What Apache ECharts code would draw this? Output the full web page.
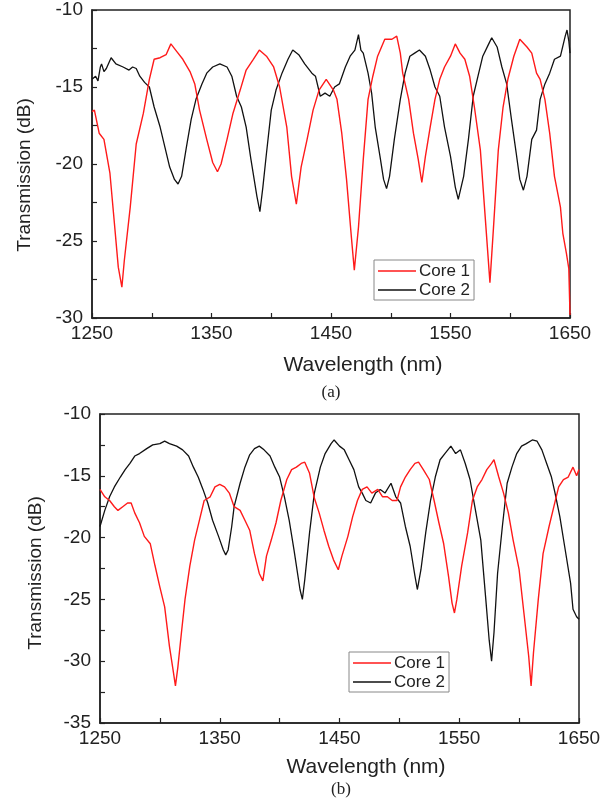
<!DOCTYPE html>
<html>
<head>
<meta charset="utf-8">
<script src="https://cdn.jsdelivr.net/npm/echarts@6.0.0/dist/echarts.min.js"></script>
<style>
html,body{margin:0;padding:0;background:#fff;}
#chart{width:616px;height:805px;}
</style>
</head>
<body>
<div id="chart"></div>
<script>
// ---------- Panel (a) ----------
var aCore1Wl = [1250,1252,1256,1260,1265,1268,1272,1275,1277,1282,1287,1293,1298,1302,1307,1312,1316,1321,1326,1332,1336,1340,1346,1351,1355,1358,1363,1368,1374,1379,1385,1390,1396,1402,1407,1413,1417,1421,1425,1430,1435,1440,1446,1452,1455,1459,1463,1467,1469.5,1473,1477,1481,1485,1489,1495,1501,1505,1508,1510,1515,1519,1523,1526,1529,1533,1537,1541,1545,1550,1554,1558,1562,1566,1570,1575,1579,1583,1586,1590,1594,1598,1603,1608,1614,1618,1622,1625,1629,1633,1637,1642,1644,1647,1649,1650];
var aCore1dB = [-16.6,-16.5,-18.0,-18.4,-20.6,-23.2,-26.7,-28.0,-26.3,-22.8,-18.7,-16.7,-14.5,-13.2,-13.1,-12.9,-12.2,-12.7,-13.2,-14.0,-14.8,-16.5,-18.4,-19.9,-20.5,-20.0,-18.4,-16.7,-15.2,-13.9,-13.2,-12.6,-13.0,-13.7,-15.0,-17.6,-20.8,-22.6,-20.2,-18.4,-16.5,-15.2,-14.5,-15.2,-15.8,-18.0,-21.0,-24.7,-26.9,-24.1,-19.7,-15.8,-14.3,-13.0,-11.9,-11.9,-11.7,-12.8,-14.1,-15.8,-18.0,-19.7,-21.2,-19.5,-17.6,-15.8,-14.5,-13.7,-13.0,-12.2,-12.8,-13.2,-14.3,-16.3,-19.1,-23.4,-27.7,-24.1,-19.1,-16.3,-14.5,-13.0,-11.9,-12.4,-12.8,-14.1,-14.5,-15.8,-18.0,-20.8,-22.8,-24.5,-25.8,-26.8,-29.8];

var aCore2Wl = [1250,1253,1255,1257,1258,1260,1262,1266,1270,1276,1281,1284,1287,1290,1294,1298,1302,1307,1311,1315,1319,1322,1325,1329,1333,1337,1342,1346,1351,1357,1363,1367,1371,1375,1379,1383,1388,1390.5,1393,1396,1400,1404,1409,1414,1418,1423,1428,1434,1437,1441,1445,1449,1453,1457,1462,1466,1470,1473,1475,1477,1481,1484,1487,1491,1494,1496.5,1499,1503,1508,1512,1516,1520,1524,1529,1533,1537,1541,1545,1550,1554,1556.5,1561,1565,1569,1573,1577,1582,1584.5,1589,1593,1597,1601,1605,1608,1611,1614,1618,1622,1625,1629,1633,1637,1642,1646,1647.5,1649,1650];
var aCore2dB = [-14.5,-14.3,-14.6,-13.7,-13.5,-14.0,-13.8,-13.1,-13.5,-13.7,-13.9,-13.7,-13.8,-14.3,-14.7,-15.0,-16.3,-17.6,-18.9,-20.2,-21.0,-21.3,-20.8,-18.9,-17.1,-15.8,-14.8,-14.1,-13.7,-13.5,-13.7,-14.3,-15.6,-16.3,-17.6,-19.7,-22.1,-23.1,-21.5,-19.3,-16.5,-15.2,-14.1,-13.2,-12.6,-12.9,-13.5,-14.1,-14.3,-15.6,-15.4,-15.6,-15.0,-14.8,-13.7,-13.0,-12.6,-11.6,-12.6,-12.8,-14.1,-15.4,-17.6,-19.5,-21.0,-21.6,-20.8,-18.4,-15.8,-14.1,-13.0,-12.8,-12.6,-13.0,-13.9,-15.0,-15.6,-17.6,-19.5,-21.5,-22.3,-20.8,-18.4,-15.6,-14.3,-13.0,-12.2,-11.8,-12.4,-13.7,-14.8,-17.1,-19.3,-21.0,-21.7,-20.8,-18.4,-17.8,-15.8,-14.8,-14.1,-13.2,-13.0,-11.7,-11.3,-12.0,-12.8];

// ---------- Panel (b) ----------
var bCore1Wl = [1250,1254,1258,1262,1265,1269,1273,1276,1279,1283,1287,1292,1296,1300,1304,1308,1311,1313,1315,1318,1321,1325,1329,1333,1337,1342,1346,1350,1354,1358,1362,1367,1371,1375,1379,1383,1386,1389,1393,1397,1401,1406,1410,1414,1418,1421,1425,1429,1433,1437,1441,1445,1449,1452,1457,1461,1465,1469,1473,1477,1482,1486,1490,1494,1498,1501,1505,1509,1513,1516,1520,1525,1529,1533,1537,1541,1544,1546,1548,1552,1557,1561,1565,1569,1573,1577,1579,1583,1587,1591,1595,1600,1604,1608,1610,1612,1616,1620,1625,1629,1633,1637,1641,1645,1648,1650];
var bCore1dB = [-16.1,-16.7,-17.0,-17.5,-17.8,-17.5,-17.2,-17.2,-18.0,-18.8,-19.9,-20.5,-22.3,-24.0,-25.6,-28.8,-30.7,-32.0,-30.5,-27.7,-25.0,-22.3,-20.2,-18.6,-17.0,-16.7,-15.9,-15.7,-15.9,-16.4,-17.5,-17.8,-18.6,-19.4,-21.3,-22.9,-23.5,-21.5,-20.2,-18.8,-17.0,-15.3,-14.5,-14.3,-14.0,-13.9,-14.8,-16.8,-18.0,-19.4,-20.7,-21.8,-22.6,-21.5,-19.9,-18.3,-17.0,-16.1,-15.9,-16.4,-16.1,-16.7,-16.7,-17.0,-17.0,-15.9,-15.1,-14.5,-14.0,-13.9,-14.5,-15.3,-17.0,-18.8,-20.5,-23.1,-25.3,-26.1,-25.0,-22.3,-19.6,-17.0,-15.9,-15.3,-14.5,-14.0,-13.7,-15.1,-16.4,-18.0,-20.2,-22.6,-26.1,-29.6,-32.0,-29.3,-25.0,-21.3,-19.1,-17.5,-15.9,-15.3,-15.1,-14.3,-15.0,-14.5];

var bCore2Wl = [1250,1254,1258,1262,1267,1271,1275,1279,1283,1289,1294,1300,1304,1308,1314,1319,1324,1328,1332,1336,1340,1344,1349,1353,1355,1357,1360,1362,1367,1371,1375,1379,1383,1387,1392,1396,1400,1404,1408,1412,1417,1419,1421,1425,1429,1434,1438,1443,1445.5,1450,1454,1458,1462,1466,1469,1472,1476,1480,1484,1488,1493,1497,1501,1505,1509,1513,1515,1518,1522,1526,1530,1534,1538,1543,1547,1551,1555,1559,1563,1568,1572,1575,1577,1579,1582,1586,1590,1594,1598,1602,1606,1611,1615,1619,1623,1627,1630,1634,1638,1643,1645,1648,1650];
var bCore2dB = [-19.1,-17.8,-16.7,-15.9,-15.1,-14.5,-14.0,-13.4,-13.2,-12.8,-12.5,-12.4,-12.2,-12.4,-12.6,-12.9,-13.4,-14.3,-15.1,-16.1,-17.2,-18.6,-19.9,-21.0,-21.4,-21.0,-19.1,-17.5,-15.6,-14.3,-13.3,-12.8,-12.6,-12.9,-13.4,-14.3,-15.1,-16.7,-18.6,-21.0,-24.2,-25.0,-23.4,-19.6,-16.4,-14.3,-13.2,-12.4,-12.1,-12.6,-12.9,-13.7,-14.5,-15.9,-16.4,-17.0,-17.2,-16.4,-16.1,-16.4,-15.6,-16.7,-17.2,-19.1,-20.7,-23.1,-24.2,-22.6,-19.6,-17.0,-15.1,-13.7,-13.2,-12.6,-13.2,-12.9,-14.0,-15.3,-17.5,-20.2,-24.8,-28.3,-30.0,-27.7,-22.9,-19.1,-15.6,-14.3,-13.2,-12.6,-12.4,-12.1,-12.2,-12.9,-14.0,-15.1,-16.4,-18.3,-20.7,-23.7,-25.8,-26.4,-26.6];

// ---------- Axis ticks ----------
var xMin = 1250, xMax = 1650, xStep = 50, xLabelStep = 100;
var aYMin = -30, aYMax = -10;
var bYMin = -35, bYMax = -10;
var yStep = 2.5, yLabelStep = 5;
var seriesNames = ['Core 1', 'Core 2'];

function zip(xs, ys) { return xs.map(function (x, i) { return [x, ys[i]]; }); }

var FONT = "'Liberation Sans', Arial, sans-serif";
var AX = '#222';
var RED = '#ff1a1a';
var BLK = '#111';

function xAxisCfg(gridIndex) {
  return {
    type: 'value', gridIndex: gridIndex, min: xMin, max: xMax, interval: xStep,
    axisLine: { show: true, lineStyle: { color: AX, width: 1.5 } },
    axisTick: { show: true, inside: true, length: 5, lineStyle: { color: AX, width: 1.2 } },
    axisLabel: {
      margin: 6, color: AX, fontSize: 19, fontFamily: FONT,
      formatter: function (v) { return ((v - xMin) % xLabelStep === 0) ? String(v) : ''; }
    },
    splitLine: { show: false }
  };
}
function yAxisCfg(gridIndex, mn, mx) {
  return {
    type: 'value', gridIndex: gridIndex, min: mn, max: mx, interval: yStep,
    axisLine: { show: true, lineStyle: { color: AX, width: 1.5 } },
    axisTick: { show: true, inside: true, length: 5, lineStyle: { color: AX, width: 1.2 } },
    axisLabel: {
      margin: 9, color: AX, fontSize: 19, fontFamily: FONT,
      formatter: function (v) { return (Math.abs(v % yLabelStep) < 1e-9) ? String(v) : ''; }
    },
    splitLine: { show: false }
  };
}
function lineSeries(name, idx, data, color, w) {
  return {
    name: name, type: 'line', xAxisIndex: idx, yAxisIndex: idx, data: data,
    showSymbol: false, symbol: 'none', smooth: false, animation: false,
    lineStyle: { color: color, width: w }, itemStyle: { color: color }, z: name === 'Core 1' ? 3 : 2
  };
}
function legendCfg(left, top) {
  return {
    data: seriesNames, orient: 'vertical', left: left, top: top,
    icon: 'rect', itemWidth: 38, itemHeight: 1.6, itemGap: 1,
    padding: [2, 4, 1, 4], backgroundColor: '#fff', borderColor: '#888', borderWidth: 1,
    textStyle: { fontSize: 17, fontFamily: FONT, color: '#222', lineHeight: 18, padding: [0, 0, 0, -2] },
    selectedMode: false
  };
}

var chart = echarts.init(document.getElementById('chart'), null, { renderer: 'canvas' });
chart.setOption({
  backgroundColor: '#fff',
  animation: false,
  grid: [
    { left: 92, right: 46, top: 10, height: 308, show: true, borderColor: AX, borderWidth: 1.5, backgroundColor: 'transparent' },
    { left: 100, right: 37, top: 414, height: 309, show: true, borderColor: AX, borderWidth: 1.5, backgroundColor: 'transparent' }
  ],
  xAxis: [xAxisCfg(0), xAxisCfg(1)],
  yAxis: [yAxisCfg(0, aYMin, aYMax), yAxisCfg(1, bYMin, bYMax)],
  legend: [legendCfg(374, 260), legendCfg(349, 652)],
  series: [
    lineSeries('Core 2', 0, zip(aCore2Wl, aCore2dB), BLK, 1.3),
    lineSeries('Core 1', 0, zip(aCore1Wl, aCore1dB), RED, 1.4),
    lineSeries('Core 2', 1, zip(bCore2Wl, bCore2dB), BLK, 1.3),
    lineSeries('Core 1', 1, zip(bCore1Wl, bCore1dB), RED, 1.4)
  ],
  graphic: [
    { type: 'text', x: 363, y: 365, style: { text: 'Wavelength (nm)', fontSize: 21, fontFamily: FONT, fill: '#222', align: 'center', verticalAlign: 'middle' } },
    { type: 'text', x: 25, y: 175, rotation: Math.PI / 2, style: { text: 'Transmission (dB)', fontSize: 19, fontFamily: FONT, fill: '#222', align: 'center', verticalAlign: 'middle' } },
    { type: 'text', x: 331, y: 393, style: { text: '(a)', fontSize: 17, fontFamily: "'Liberation Serif', 'Times New Roman', serif", fill: '#222', align: 'center', verticalAlign: 'middle' } },
    { type: 'text', x: 366, y: 767, style: { text: 'Wavelength (nm)', fontSize: 21, fontFamily: FONT, fill: '#222', align: 'center', verticalAlign: 'middle' } },
    { type: 'text', x: 36, y: 573, rotation: Math.PI / 2, style: { text: 'Transmission (dB)', fontSize: 19, fontFamily: FONT, fill: '#222', align: 'center', verticalAlign: 'middle' } },
    { type: 'text', x: 341, y: 790, style: { text: '(b)', fontSize: 17, fontFamily: "'Liberation Serif', 'Times New Roman', serif", fill: '#222', align: 'center', verticalAlign: 'middle' } }
  ]
});
</script>
</body>
</html>
